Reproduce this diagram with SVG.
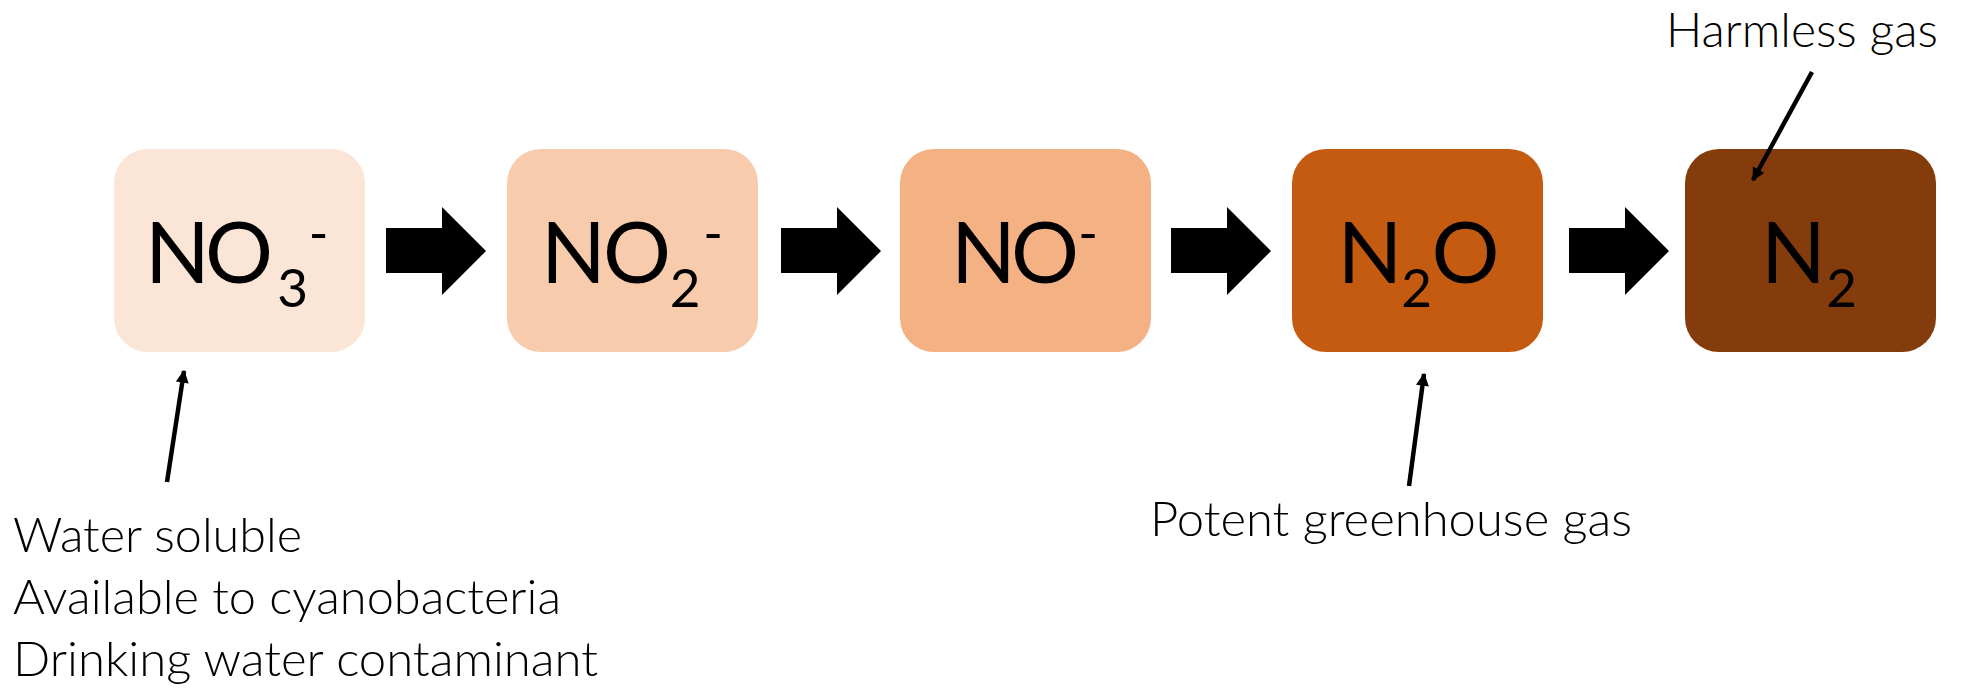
<svg xmlns="http://www.w3.org/2000/svg" width="1967" height="688" viewBox="0 0 1967 688">
  <style>
    .box { stroke: none; }
    .formula { font-family: Lato, "Open Sans", "Liberation Sans", sans-serif; font-size: 85px; fill: #000; text-anchor: middle; }
    .sub { font-size: 53px; }
    .label { font-family: Lato, "Open Sans", "Liberation Sans", sans-serif; font-weight: 300; font-size: 47.5px; fill: #000; }
    .step { fill: #000; }
    .callout { stroke: #000; stroke-width: 4.5; fill: none; marker-end: url(#head); }
  </style>
  <defs>
    <marker id="head" viewBox="0 0 10 10" refX="9" refY="5" markerUnits="userSpaceOnUse" markerWidth="14" markerHeight="13" orient="auto">
      <path d="M0,0 L10,5 L0,10 Z" fill="#000"/>
    </marker>
    <!-- block arrow pointing right, origin at the shaft's left edge / centre line -->
    <path id="blockArrow" d="M0,-23 H56 V-44 L100,0 L56,44 V22 H0 Z"/>
  </defs>

  <rect width="1967" height="688" fill="#fff"/>

  <g id="nitrate">
    <rect class="box" x="114" y="149" width="251" height="203" rx="34" fill="#FBE5D6"/>
    <text class="formula"><tspan x="177.5" y="283">N</tspan><tspan x="239" y="283">O</tspan><tspan class="sub" x="292.5" y="307">3</tspan><tspan class="sub" x="318.5" y="252">-</tspan></text>
  </g>

  <g id="nitrite">
    <rect class="box" x="507" y="149" width="251" height="203" rx="34" fill="#F8CBAD"/>
    <text class="formula"><tspan x="573.5" y="283">N</tspan><tspan x="637" y="283">O</tspan><tspan class="sub" x="685" y="307">2</tspan><tspan class="sub" x="713" y="252">-</tspan></text>
  </g>

  <g id="nitric-oxide">
    <rect class="box" x="900" y="149" width="251" height="203" rx="34" fill="#F4B183"/>
    <text class="formula"><tspan x="983.5" y="283">N</tspan><tspan x="1045" y="283">O</tspan><tspan class="sub" x="1088" y="252">-</tspan></text>
  </g>

  <g id="nitrous-oxide">
    <rect class="box" x="1292" y="149" width="251" height="203" rx="34" fill="#C55A11"/>
    <text class="formula"><tspan x="1370" y="283">N</tspan><tspan class="sub" x="1416.5" y="307">2</tspan><tspan x="1465.5" y="283">O</tspan></text>
  </g>

  <g id="dinitrogen">
    <rect class="box" x="1685" y="149" width="251" height="203" rx="34" fill="#843C0C"/>
    <text class="formula"><tspan x="1793.5" y="283">N</tspan><tspan class="sub" x="1841.5" y="307">2</tspan></text>
  </g>

  <g id="connectors">
    <use href="#blockArrow" class="step" x="386" y="251"/>
    <use href="#blockArrow" class="step" x="781" y="251"/>
    <use href="#blockArrow" class="step" x="1171" y="251"/>
    <use href="#blockArrow" class="step" x="1569" y="251"/>
    <line class="callout" x1="167" y1="482" x2="184" y2="371"/>
    <line class="callout" x1="1409" y1="486" x2="1424" y2="374"/>
    <line class="callout" x1="1812" y1="72" x2="1753" y2="180"/>
  </g>

  <g id="notes">
    <text class="label" x="13" y="552" textLength="289" lengthAdjust="spacingAndGlyphs">Water soluble</text>
    <text class="label" x="13" y="614" textLength="548" lengthAdjust="spacingAndGlyphs">Available to cyanobacteria</text>
    <text class="label" x="13" y="676" textLength="585" lengthAdjust="spacingAndGlyphs">Drinking water contaminant</text>
    <text class="label" x="1150" y="536" textLength="482" lengthAdjust="spacingAndGlyphs">Potent greenhouse gas</text>
    <text class="label" x="1666" y="47" textLength="272" lengthAdjust="spacingAndGlyphs">Harmless gas</text>
  </g>
</svg>
